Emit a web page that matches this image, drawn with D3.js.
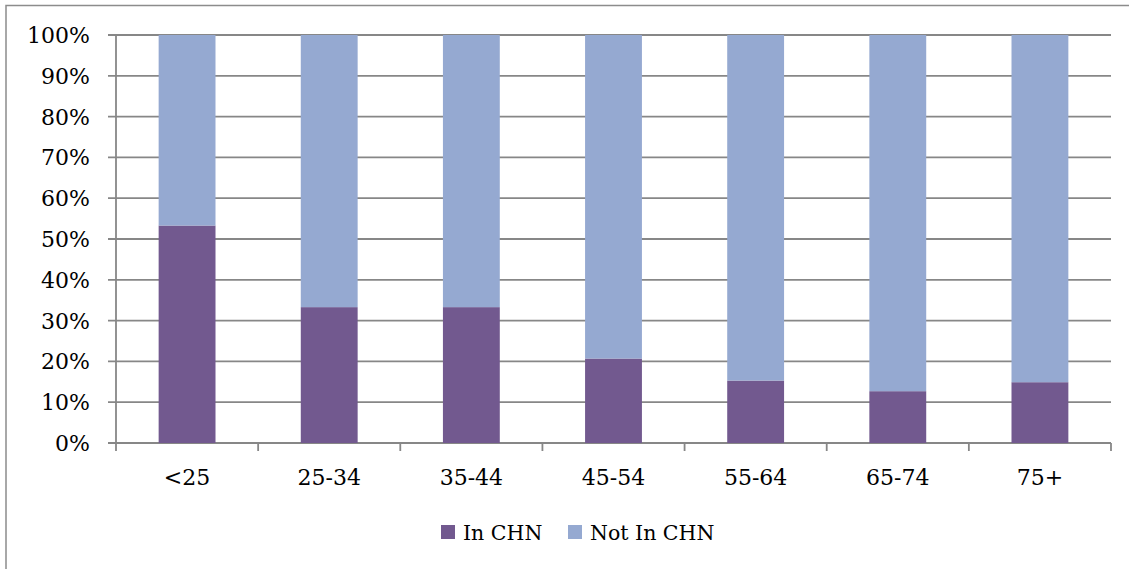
<!DOCTYPE html>
<html>
<head>
<meta charset="utf-8">
<script src="https://cdn.jsdelivr.net/npm/d3@7"></script>
<style>
  html, body { margin: 0; padding: 0; background: #fff; }
  svg { display: block; }
  text { font-family: "DejaVu Serif", "Liberation Serif", serif; fill: #000; }
</style>
</head>
<body>
<svg id="chart" width="1129" height="569"></svg>
<script>
// Share of each age group in / not in CHN (percent)
const categories = ["<25", "25-34", "35-44", "45-54", "55-64", "65-74", "75+"];
const inCHN    = [53.3, 33.3, 33.3, 20.7, 15.3, 12.7, 14.9];
const notInCHN = inCHN.map(v => 100 - v);
const seriesNames = ["In CHN", "Not In CHN"];
const seriesColors = ["#72598f", "#95a9d1"];
const yTicks = [0, 10, 20, 30, 40, 50, 60, 70, 80, 90, 100];

const svg = d3.select("#chart");
const W = 1129, H = 569;
const plot = { left: 116, right: 1111, top: 35, bottom: 443 };
const gridColor = "#878787";

// outer chart frame (left and top edges visible)
svg.append("path")
  .attr("d", `M6,${H} L6,5.5 L${W},5.5`)
  .attr("fill", "none")
  .attr("stroke", "#8c8c8c")
  .attr("stroke-width", 1.5);

const x = d3.scaleBand()
  .domain(categories)
  .range([plot.left, plot.right])
  .paddingInner(0.6)
  .paddingOuter(0.3);

const xOuter = d3.scaleBand()
  .domain(categories)
  .range([plot.left, plot.right]);

const y = d3.scaleLinear().domain([0, 100]).range([plot.bottom, plot.top]);

// horizontal gridlines with outward ticks
svg.append("g")
  .selectAll("line")
  .data(yTicks)
  .join("line")
  .attr("x1", plot.left - 8)
  .attr("x2", plot.right)
  .attr("y1", d => y(d))
  .attr("y2", d => y(d))
  .attr("stroke", gridColor)
  .attr("stroke-width", 1.8);

// y-axis line
svg.append("line")
  .attr("x1", plot.left).attr("x2", plot.left)
  .attr("y1", plot.top).attr("y2", plot.bottom + 8)
  .attr("stroke", gridColor)
  .attr("stroke-width", 1.8);

// category boundary ticks on the x-axis
const boundaries = categories.map(c => xOuter(c)).concat([plot.right]);
svg.append("g")
  .selectAll("line")
  .data(boundaries.slice(1))
  .join("line")
  .attr("x1", d => d).attr("x2", d => d)
  .attr("y1", plot.bottom).attr("y2", plot.bottom + 8)
  .attr("stroke", gridColor)
  .attr("stroke-width", 1.8);

// stacked bars
const rows = categories.map((c, i) => ({ cat: c, "In CHN": inCHN[i], "Not In CHN": notInCHN[i] }));
const stack = d3.stack().keys(seriesNames)(rows);

svg.append("g")
  .selectAll("g")
  .data(stack)
  .join("g")
  .attr("fill", (d, i) => seriesColors[i])
  .selectAll("rect")
  .data(d => d)
  .join("rect")
  .attr("x", d => x(d.data.cat))
  .attr("width", x.bandwidth())
  .attr("y", d => y(d[1]))
  .attr("height", d => y(d[0]) - y(d[1]));

// y tick labels
svg.append("g")
  .selectAll("text")
  .data(yTicks)
  .join("text")
  .attr("x", 90)
  .attr("y", d => y(d))
  .attr("dy", "0.36em")
  .attr("text-anchor", "end")
  .attr("font-size", 22)
  .text(d => d + "%");

// x category labels
svg.append("g")
  .selectAll("text")
  .data(categories)
  .join("text")
  .attr("x", d => xOuter(d) + xOuter.bandwidth() / 2)
  .attr("y", 485)
  .attr("text-anchor", "middle")
  .attr("font-size", 22)
  .text(d => d);

// legend
const legendItems = [
  { name: seriesNames[0], color: seriesColors[0], x: 441 },
  { name: seriesNames[1], color: seriesColors[1], x: 568 }
];
const lg = svg.append("g").selectAll("g").data(legendItems).join("g")
  .attr("transform", d => `translate(${d.x},0)`);
lg.append("rect")
  .attr("x", 0).attr("y", 525)
  .attr("width", 14).attr("height", 14)
  .attr("fill", d => d.color);
lg.append("text")
  .attr("x", 22).attr("y", 540)
  .attr("font-size", 20.5)
  .text(d => d.name);
</script>
</body>
</html>
